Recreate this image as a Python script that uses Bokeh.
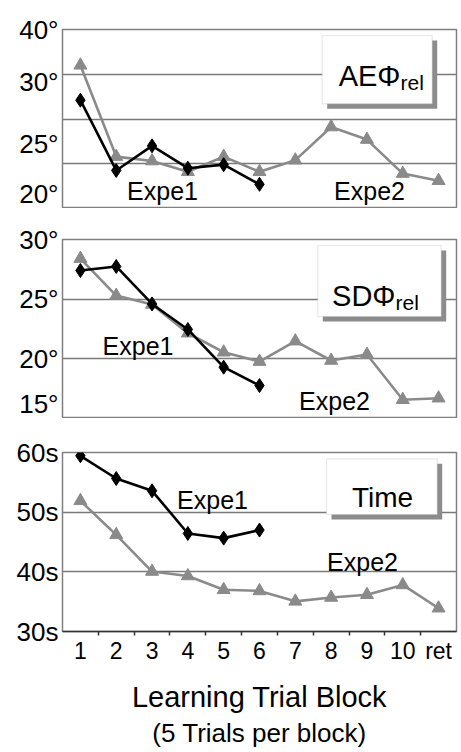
from bokeh.plotting import figure
from bokeh.layouts import column
from bokeh.models import Range1d, FixedTicker, Label, Title, BoxAnnotation
from bokeh.embed import file_html
from bokeh.resources import INLINE

# ---------------- data ----------------
blocks = [1, 2, 3, 4, 5, 6, 7, 8, 9, 10, 11]
block_labels = ["1", "2", "3", "4", "5", "6", "7", "8", "9", "10", "ret"]
blocks_e1 = [1, 2, 3, 4, 5, 6]

ae_expe1 = [32.1, 24.25, 27.0, 24.5, 24.9, 22.7]
ae_expe2 = [36.0, 25.8, 25.3, 24.1, 25.8, 24.1, 25.4, 29.1, 27.7, 23.9, 23.1]

sd_expe1 = [27.4, 27.74, 24.6, 22.46, 19.3, 17.76]
sd_expe2 = [28.4, 25.3, 24.55, 22.15, 20.55, 19.77, 21.48, 19.86, 20.36, 16.57, 16.7]

time_expe1 = [59.45, 55.64, 53.58, 46.43, 45.65, 47.0]
time_expe2 = [51.9, 46.2, 40.05, 39.3, 37.0, 36.8, 35.05, 35.7, 36.15, 37.8, 33.9]

ae_ticks = [21.6, 27.2, 34.1, 40]
ae_tick_labels = ["20°", "25°", "30°", "40°"]
ae_grid = [25, 30, 35]

sd_ticks = [15, 20, 25, 30]
sd_tick_labels = ["15°", "20°", "25°", "30°"]
sd_grid = [20, 25]

time_ticks = [30, 40, 50, 60]
time_tick_labels = ["30s", "40s", "50s", "60s"]
time_grid = [40, 50]

FONT = "Liberation Sans"
GRAY = "#8a8a8a"
FRAME_W, FRAME_H = 394, 179
LEFT = 62
X0, X1 = 0.5, 11.5


def make_panel(y0, y1, ticks, tick_labels, grid, e1, e2, top_border, bottom):
    p = figure(frame_width=FRAME_W, frame_height=FRAME_H,
               x_range=Range1d(X0, X1), y_range=Range1d(y0, y1),
               output_backend="svg", toolbar_location=None,
               min_border_left=LEFT, min_border_right=3,
               min_border_top=top_border, min_border_bottom=bottom,
               background_fill_color="white", border_fill_color="white")
    p.outline_line_color = "#808080"
    p.outline_line_width = 1.5
    p.xgrid.visible = False
    p.ygrid.ticker = FixedTicker(ticks=grid)
    p.ygrid.grid_line_color = "#7a7a7a"
    p.ygrid.grid_line_width = 1.3
    ya = p.yaxis[0]
    ya.ticker = FixedTicker(ticks=ticks)
    ya.major_label_overrides = {t: l for t, l in zip(ticks, tick_labels)}
    ya.axis_line_color = None
    ya.major_tick_line_color = None
    ya.minor_tick_line_color = None
    ya.major_label_text_font = FONT
    ya.major_label_text_font_size = "26px"
    ya.major_label_text_color = "black"
    ya.major_label_standoff = 4
    ya.major_tick_out = 0
    ya.major_tick_in = 0

    p.line(blocks[:len(e2)], e2, line_color=GRAY, line_width=2.6)
    p.scatter(blocks[:len(e2)], e2, marker="triangle", size=13,
              fill_color=GRAY, line_color=GRAY)
    p.line(blocks_e1, e1, line_color="black", line_width=2.6)
    p.scatter(blocks_e1, e1, marker="diamond", size=14,
              fill_color="black", line_color="black")
    return p


def px_to_x(px):
    return X0 + (px - LEFT) * (X1 - X0) / FRAME_W


def box(p, y0, y1, top_px, left, right, top, bottom):
    # pixel -> data helper for this panel (frame top at top_px)
    def py(v):
        return y1 - (v - top_px) * (y1 - y0) / FRAME_H
    p.add_layout(BoxAnnotation(left=px_to_x(left + 5), right=px_to_x(right + 5),
                               top=py(top + 5), bottom=py(bottom + 5),
                               fill_color="#8c8c8c", fill_alpha=1, line_color=None,
                               level="overlay"))
    p.add_layout(BoxAnnotation(left=px_to_x(left), right=px_to_x(right),
                               top=py(top), bottom=py(bottom),
                               fill_color="white", fill_alpha=1,
                               line_color="#b4b4b4", line_width=1.2, level="overlay"))
    return py


def text(p, x, y, s, size, align="center", baseline="middle"):
    p.add_layout(Label(x=x, y=y, text=s, text_font=FONT, text_font_size=size,
                       text_align=align, text_baseline=baseline, text_color="black",
                       level="overlay"))


# ---------- panel 1 : AE ----------
p1 = make_panel(20, 40, ae_ticks, ae_tick_labels, ae_grid, ae_expe1, ae_expe2, 29, 0)
p1.xaxis.visible = False
py1 = box(p1, 20, 40, 29, 321.7, 431.7, 35, 103.3)
text(p1, px_to_x(400), py1(75), "AEΦ", "29px", "right", "alphabetic")
text(p1, px_to_x(400), py1(81.5), "rel", "21px", "left", "alphabetic")
text(p1, px_to_x(162), py1(190), "Expe1", "25px")
text(p1, px_to_x(369), py1(190), "Expe2", "25px")

# ---------- panel 2 : SD ----------
p2 = make_panel(15, 30, sd_ticks, sd_tick_labels, sd_grid, sd_expe1, sd_expe2, 31, 0)
p2.xaxis.visible = False
py2 = box(p2, 15, 30, 239, 317.3, 440.7, 245, 316)
text(p2, px_to_x(395), py2(295), "SDΦ", "29px", "right", "alphabetic")
text(p2, px_to_x(395), py2(302), "rel", "21px", "left", "alphabetic")
text(p2, px_to_x(137.5), py2(345), "Expe1", "25px")
text(p2, px_to_x(334), py2(400), "Expe2", "25px")

# ---------- panel 3 : Time ----------
p3 = make_panel(30, 60, time_ticks, time_tick_labels, time_grid, time_expe1, time_expe2, 34, 114)
py3 = box(p3, 30, 60, 452, 326, 436.7, 458.3, 514)
text(p3, px_to_x(382), py3(496.7), "Time", "28px", "center", "alphabetic")
text(p3, px_to_x(212), py3(499), "Expe1", "25px")
text(p3, px_to_x(362), py3(561.7), "Expe2", "25px")

xa = p3.xaxis[0]
edges = [b + 0.5 for b in blocks[:-1]]
xa.ticker = FixedTicker(ticks=blocks, minor_ticks=edges)
xa.major_label_overrides = {b: l for b, l in zip(blocks, block_labels)}
xa.axis_line_color = "#333333"
xa.axis_line_width = 1.5
xa.major_tick_line_color = None
xa.major_tick_out = 0
xa.major_tick_in = 0
xa.minor_tick_line_color = "#333333"
xa.minor_tick_line_width = 1.5
xa.minor_tick_out = 4
xa.minor_tick_in = 0
xa.major_label_text_font = FONT
xa.major_label_text_font_size = "23px"
xa.major_label_text_color = "black"
xa.major_label_standoff = 2
xa.axis_label = "Learning Trial Block"
xa.axis_label_text_font = FONT
xa.axis_label_text_font_size = "29px"
xa.axis_label_text_font_style = "normal"
xa.axis_label_text_color = "black"
xa.axis_label_standoff = 14
p3.add_layout(Title(text="(5 Trials per block)", align="center", text_font=FONT,
                    text_font_size="26px", text_font_style="normal",
                    text_color="black", standoff=0), "below")

layout = column(p1, p2, p3, spacing=0)
open("out.html", "w").write(file_html(layout, INLINE))
